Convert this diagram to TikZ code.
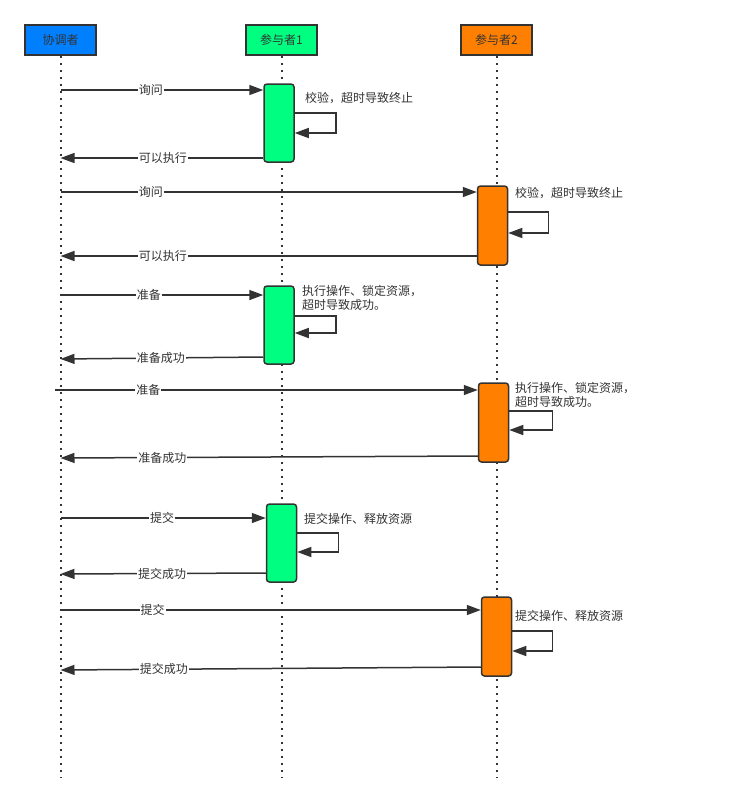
\documentclass[tikz,border=0pt]{standalone}
\usepackage{fontspec}
\newfontfamily\cjk{Noto Sans CJK SC}
\usetikzlibrary{arrows.meta, positioning}
\definecolor{ink}{HTML}{333333}
\definecolor{coordblue}{HTML}{007FFF}
\definecolor{partgreen}{HTML}{00FF80}
\definecolor{partorange}{HTML}{FF8000}

\begin{document}
\begin{tikzpicture}[x=1pt, y=-1pt,
    head/.style={draw=ink, line width=1.5pt, minimum width=71pt, minimum height=30pt,
                 inner sep=0pt, text=ink, font=\cjk\fontsize{12}{14}\selectfont},
    act/.style={draw=ink, line width=1.5pt, rounded corners=3pt,
                minimum width=30pt, minimum height=78pt, inner sep=0pt},
    life/.style={ink, line width=2pt, dash pattern=on 2pt off 5pt},
    msg/.style={ink, line width=1.5pt, -{Triangle[length=14pt, width=10pt]}},
    lbl/.style={fill=white, inner sep=1pt, text=ink, font=\cjk\fontsize{12}{14}\selectfont},
    note/.style={inner sep=0pt, align=left, anchor=west, text=ink,
                 font=\cjk\fontsize{12}{14}\selectfont}]

\useasboundingbox (0,0) rectangle (745,807);

% Heads and lifelines
\node[head, fill=coordblue] (h0) at (60.5,40) {协调者};
\node[head, fill=partgreen] (h1) at (281.5,40) {参与者1};
\node[head, fill=partorange] (h2) at (496.5,40) {参与者2};
\coordinate (e0) at (h0.south |- 0,778);
\coordinate (e1) at (h1.south |- 0,778);
\coordinate (e2) at (h2.south |- 0,778);
\draw[life] (h0) -- (e0);
\draw[life] (h1) -- (e1);
\draw[life] (h2) -- (e2);

% Activations
\node[act, fill=partgreen] (a1) at (279,123) {};
\node[act, fill=partorange, minimum height=79pt] (a2) at (492.5,225.5) {};
\node[act, fill=partgreen] (a3) at (279,325) {};
\node[act, fill=partorange, minimum height=79pt] (a4) at (493.5,422.5) {};
\node[act, fill=partgreen] (a5) at (281.5,543) {};
\node[act, fill=partorange, minimum height=79pt] (a6) at (496.5,636.5) {};

% Ask
\draw[msg] (h0 |- 0,90) -- node[lbl, pos=.446] {询问} (a1.west |- 0,90);
\draw[msg] (a1.east |- 0,113) -- ++(41,0) |- (a1.east |- 0,133);
\node[note] (n1) at (305,98) {校验，超时导致终止};
\draw[msg] (a1.west |- 0,158) -- node[lbl, pos=.495] {可以执行} (h0 |- 0,158);

\draw[msg] (h0 |- 0,192) -- node[lbl, pos=.217] {询问} (a2.west |- 0,192);
\draw[msg] (a2.east |- 0,212) -- ++(40,0) |- (a2.east |- 0,233);
\node[note] (n2) at (515,193) {校验，超时导致终止};
\draw[msg] (a2.west |- 0,256) -- node[lbl, pos=.754] {可以执行} (h0 |- 0,256);

% Prepare
\draw[msg] (h0 |- 0,295) -- node[lbl, pos=.436] {准备} (a3.west |- 0,295);
\draw[msg] (a3.east |- 0,316) -- ++(41,0) |- (a3.east |- 0,333);
\node[note] (n3) at (302,298) {执行操作、锁定资源，\\超时导致成功。};
\draw[msg] (a3.west |- 0,357) -- node[lbl, pos=.505] {准备成功} (h0 |- 0,359);

\draw[msg] ([xshift=-6pt]h0.center |- 0,390) -- node[lbl, pos=.222] {准备} (a4.west |- 0,390);
\draw[msg] (a4.east |- 0,411) -- ++(43,0) |- (a4.east |- 0,430);
\node[note] (n4) at (515,395) {执行操作、锁定资源，\\超时导致成功。};
\draw[msg] (a4.west |- 0,456) -- node[lbl, pos=.756] {准备成功} (h0 |- 0,458);

% Commit
\draw[msg] (h0 |- 0,518) -- node[lbl, pos=.495] {提交} (a5.west |- 0,518);
\draw[msg] (a5.east |- 0,533) -- ++(41,0) |- (a5.east |- 0,552);
\node[note] (n5) at (304,519) {提交操作、释放资源};
\draw[msg] (a5.west |- 0,573) -- node[lbl, pos=.505] {提交成功} (h0 |- 0,574);

\draw[msg] (h0 |- 0,610) -- node[lbl, pos=.219] {提交} (a6.west |- 0,610);
\draw[msg] (a6.east |- 0,631) -- ++(40,0) |- (a6.east |- 0,651);
\node[note] (n6) at (515,616) {提交操作、释放资源};
\draw[msg] (a6.west |- 0,667) -- node[lbl, pos=.754] {提交成功} (h0 |- 0,670);
\end{tikzpicture}
\end{document}
